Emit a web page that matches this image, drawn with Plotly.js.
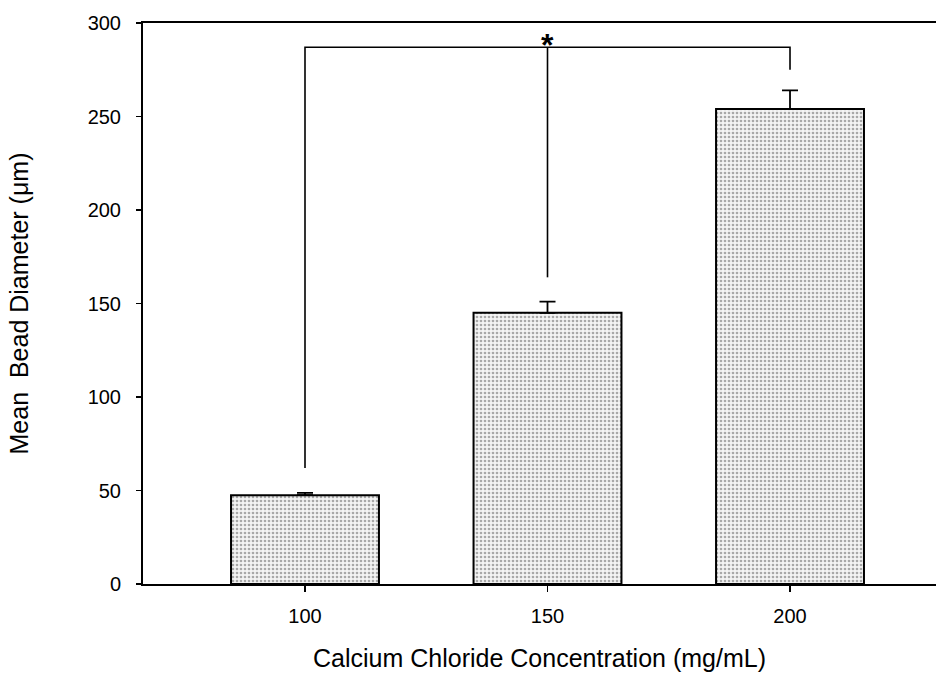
<!DOCTYPE html>
<html>
<head>
<meta charset="utf-8">
<script src="https://cdn.plot.ly/plotly-3.0.1.min.js"></script>
<style>html,body{margin:0;padding:0;background:#fff}#chart{width:936px;height:676px}</style>
</head>
<body>
<div id="chart"></div>
<script>
// Data
var concentrations = [100, 150, 200];          // mg/mL
var meanDiameter = [47.5, 145, 254];            // µm
var errorUpper = [1.2, 6, 10];                  // µm
var sigX = [100, 150, 200];                     // bracket legs
var sigLegBottom = [62, 164, 275];              // where each leg ends
var sigTop = 287;                               // bracket height
var sigLabel = '<b>*</b>';
var yTicks = [0, 50, 100, 150, 200, 250, 300];

var font = 'Liberation Sans, Arial, sans-serif';

var barTrace = {
  type: 'bar',
  x: concentrations,
  y: meanDiameter,
  width: 30.5,
  marker: {
    color: '#e2e2e2',
    line: {color: '#000', width: 2},
    pattern: {shape: '.', fgcolor: '#a8a8a8', bgcolor: '#f4f4f4', size: 4, solidity: 0.35}
  },
  error_y: {type: 'data', symmetric: false, array: errorUpper, arrayminus: [0,0,0], color: '#000', thickness: 1.8, width: 8},
  hoverinfo: 'none'
};

var bracketOuter = {
  type: 'scatter', mode: 'lines',
  x: [sigX[0], sigX[0], sigX[2], sigX[2]],
  y: [sigLegBottom[0], sigTop, sigTop, sigLegBottom[2]],
  line: {color: '#000', width: 1.6}, hoverinfo: 'none'
};
var bracketMid = {
  type: 'scatter', mode: 'lines',
  x: [sigX[1], sigX[1]],
  y: [sigTop, sigLegBottom[1]],
  line: {color: '#000', width: 1.6}, hoverinfo: 'none'
};

var layout = {
  width: 936, height: 676,
  margin: {l: 143, r: 0, t: 23, b: 92},
  paper_bgcolor: '#fff', plot_bgcolor: '#fff',
  showlegend: false,
  font: {family: font, color: '#000', size: 20},
  xaxis: {
    range: [66.6, 230.1],
    tickvals: concentrations,
    ticktext: concentrations.map(String),
    ticks: 'outside', ticklen: 6, tickwidth: 1.5, tickcolor: '#000',
    showline: true, linecolor: '#000', linewidth: 2, mirror: true,
    showgrid: false, zeroline: false,
    tickfont: {size: 20},
    ticklabelstandoff: 7,
    title: {text: 'Calcium Chloride Concentration (mg/mL)', font: {size: 25}, standoff: 23}
  },
  yaxis: {
    range: [0, 300],
    tickvals: yTicks,
    ticks: 'outside', ticklen: 5, tickwidth: 1.5, tickcolor: '#000',
    showline: true, linecolor: '#000', linewidth: 2,
    showgrid: false, zeroline: false,
    tickfont: {size: 20},
    ticklabelstandoff: 11,
    title: {text: 'Mean&nbsp;&nbsp;Bead Diameter (\u03bcm)', font: {size: 25}, standoff: 52}
  },
  annotations: [{
    x: sigX[1], y: sigTop, xref: 'x', yref: 'y',
    text: sigLabel, showarrow: false, yanchor: 'bottom',
    font: {size: 32, family: font}, yshift: -18
  }]
};

Plotly.newPlot('chart', [barTrace, bracketOuter, bracketMid], layout, {staticPlot: true, displayModeBar: false});
</script>
</body>
</html>
